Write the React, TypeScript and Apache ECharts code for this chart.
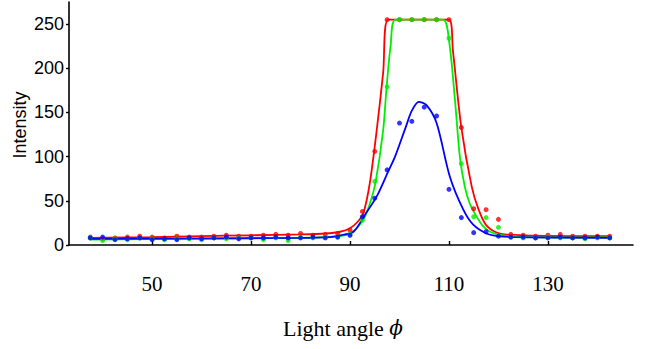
import React, { useEffect, useRef } from "react";
import * as echarts from "echarts";

// Light angle (degrees) at which each sample was taken
const angles = [
  37.5, 40, 42.5, 45, 47.5, 50, 52.5, 55, 57.5, 60, 62.5, 65, 67.5, 70, 72.5,
  75, 77.5, 80, 82.5, 85, 87.5, 90, 92.5, 95, 97.5, 100, 102.5, 105, 107.5,
  110, 112.5, 115, 117.5, 120, 122.5, 125, 127.5, 130, 132.5, 135, 137.5, 140,
  142.5,
];

// Measured intensities (dots)
const redDots = [
  9, 7, 8, 9, 10, 9, 8, 10, 9, 9, 10, 11, 10, 10, 11, 12, 11, 13, 11, 12, 13,
  17, 38, 106, 255, 255, 255, 255, 255, 255, 133, 41, 40, 29, 12, 11, 10, 11,
  12, 10, 10, 10, 10,
];
const greenDots = [
  8, 5, 7, 6, 8, 7, 6, 7, 7, 6, 8, 7, 8, 8, 6, 8, 5, 9, 8, 9, 9, 12, 28, 72,
  179, 255, 255, 255, 255, 234, 92, 32, 31, 20, 9, 8, 8, 9, 8, 8, 7, 8, 8,
];
const blueDots = [
  8, 9, 6, 7, 8, 6, 7, 6, 8, 7, 8, 9, 7, 8, 8, 9, 8, 8, 9, 8, 9, 11, 32, 53,
  85, 138, 140, 156, 146, 63, 31, 14, 15, 10, 9, 9, 8, 8, 9, 8, 8, 9, 8,
];

// Fitted curves
const redFitX = [
  37.5, 50, 60, 70, 80, 85, 88, 90, 91.5, 92.7, 94, 95.4, 96.7, 97.7, 104, 110,
  110.8, 112.5, 114.6, 116, 117.6, 120.3, 125, 142.5,
];
const redFitY = [
  8, 9, 10, 11, 12, 13, 15, 19, 26, 36, 70, 130, 195, 255, 255, 255, 220, 133,
  66, 40, 22, 13, 11, 10,
];
const greenFitX = [
  37.5, 60, 80, 88, 90, 91.5, 93, 94.2, 95.2, 96.7, 97.4, 98.2, 99.2, 104,
  108.8, 110, 111.2, 112.2, 113.2, 114.2, 115.5, 116.8, 118.3, 121, 125, 142.5,
];
const greenFitY = [
  6, 7, 8, 10, 13, 20, 32, 50, 72, 130, 179, 225, 255, 255, 255, 232, 165, 100,
  66, 47, 33, 22, 15, 11, 9, 8.5,
];
const blueFitX = [
  37.5, 60, 80, 86, 88, 90.7, 93, 95.4, 97.7, 99.1, 101.3, 102.5, 103.9, 105.5,
  107.5, 110.2, 112.9, 114.9, 117.6, 120, 123, 142.5,
];
const blueFitY = [
  7, 7.5, 8, 9, 11, 15, 34, 55, 83, 100, 134, 152, 162, 158, 138, 77, 40, 23,
  13, 10, 9, 8,
];

const xTicks = [50, 70, 90, 110, 130];
const yTicks = [0, 50, 100, 150, 200, 250];

const xTitle = "Light angle ";
const xSymbol = "ϕ";
const yTitle = "Intensity";

const zip = (xs: number[], ys: number[]) => xs.map((x, i) => [x, ys[i]]);

export default function App() {
  const ref = useRef<HTMLDivElement>(null);

  useEffect(() => {
    if (!ref.current) return;
    const chart = echarts.init(ref.current, null, { renderer: "svg" });

    const colors = { red: "#ff0000", green: "#00ee00", blue: "#0000ff" };
    const fitSeries = (name: string, xs: number[], ys: number[], color: string) => ({
      name,
      type: "line",
      data: zip(xs, ys),
      showSymbol: false,
      smooth: 0.3,
      lineStyle: { color, width: 1.8 },
      z: 2,
    });
    const dotSeries = (name: string, ys: number[], color: string) => ({
      name,
      type: "scatter",
      data: zip(angles, ys),
      symbol: "circle",
      symbolSize: 5,
      itemStyle: { color },
      z: 3,
    });

    chart.setOption({
      animation: false,
      backgroundColor: "#ffffff",
      grid: { left: 69, right: 13, top: 2, bottom: 104, containLabel: false },
      xAxis: {
        type: "value",
        min: 33.2,
        max: 147.2,
        splitLine: { show: false },
        axisLine: { show: true, onZero: false, lineStyle: { color: "#000", width: 1.6 } },
        axisTick: {
          show: true,
          inside: true,
          length: 4,
          customValues: xTicks,
          lineStyle: { color: "#000", width: 1.4 },
        },
        axisLabel: {
          customValues: xTicks,
          color: "#000",
          fontFamily: "Liberation Serif, 'Times New Roman', serif",
          fontSize: 21,
          margin: 28,
        },
      },
      yAxis: {
        type: "value",
        min: 0,
        max: 275,
        splitLine: { show: false },
        axisLine: { show: true, lineStyle: { color: "#000", width: 1.6 } },
        axisTick: {
          show: true,
          length: 3,
          customValues: yTicks,
          lineStyle: { color: "#000", width: 1.4 },
        },
        axisLabel: {
          customValues: yTicks,
          color: "#000",
          fontFamily: "Liberation Sans, Arial, Helvetica, sans-serif",
          fontSize: 18,
          margin: 5,
        },
      },
      graphic: [
        {
          type: "text",
          x: 20,
          y: 125,
          rotation: Math.PI / 2,
          style: {
            text: yTitle,
            fill: "#000",
            font: "18px 'Liberation Sans', Arial, sans-serif",
            align: "center",
            verticalAlign: "middle",
          },
        },
        {
          type: "text",
          x: 343,
          y: 328,
          style: {
            text: `{n|${xTitle}}{i|${xSymbol}}`,
            fill: "#000",
            align: "center",
            verticalAlign: "middle",
            rich: {
              n: {
                fontFamily: "Liberation Serif, 'Times New Roman', serif",
                fontSize: 22,
                fill: "#000",
              },
              i: {
                fontFamily: "DejaVu Serif, Liberation Serif, serif",
                fontStyle: "italic",
                fontSize: 20,
                fill: "#000",
              },
            },
          },
        },
      ],
      series: [
        fitSeries("red fit", redFitX, redFitY, colors.red),
        fitSeries("green fit", greenFitX, greenFitY, colors.green),
        fitSeries("blue fit", blueFitX, blueFitY, colors.blue),
        dotSeries("red", redDots, colors.red),
        dotSeries("green", greenDots, colors.green),
        dotSeries("blue", blueDots, colors.blue),
      ],
    });

    return () => chart.dispose();
  }, []);

  return (
    <div
      ref={ref}
      style={{ position: "absolute", left: 0, top: 0, width: 646, height: 349 }}
    />
  );
}
